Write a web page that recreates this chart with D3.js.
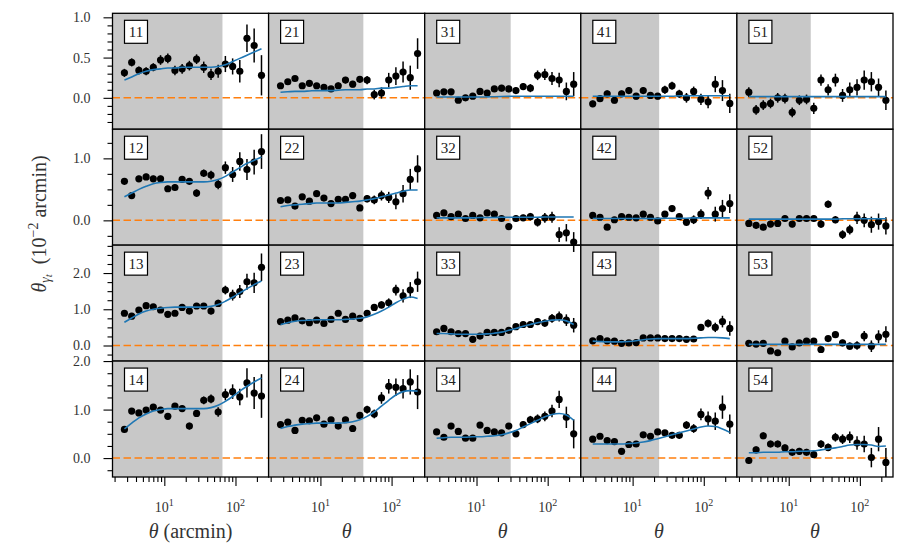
<!DOCTYPE html>
<html><head><meta charset="utf-8">
<script src="https://cdn.jsdelivr.net/npm/d3@7"></script>
<style>
body{margin:0;background:#fff}
svg text{font-family:"Liberation Serif","DejaVu Serif",serif;fill:#333}
</style>
</head><body>
<svg id="chart" width="906" height="544" font-family="Liberation Serif, DejaVu Serif, serif"></svg>
<script>
// ---------- data ----------
const theta = [2.75,3.48,4.39,5.55,7.00,8.85,11.2,14.1,17.8,22.5,28.4,35.8,45.3,57.1,72.1,91.2,115,145,183,232];
const scaleCuts = [65.6, 40.1, 30.2, 23.6, 20.4];
const panelLabels = [["11","21","31","41","51"],["12","22","32","42","52"],["13","23","33","43","53"],["14","24","34","44","54"]];
const rowLimits = [[-0.39,1.05],[-0.40,1.47],[-0.43,2.77],[-0.39,2.0]];
const rowMajorTicks = [[0,0.5,1.0],[0,1.0],[0,1.0,2.0],[0,1.0,2.0]];
const rowMinorStep = [0.1,0.25,0.25,0.25];
const xMajorTicks = [10,100];
const xMinorTicks = [2,3,4,5,6,7,8,9,20,30,40,50,60,70,80,90,200];

// row 1
const obs11=[0.31,0.44,0.34,0.33,0.38,0.47,0.49,0.34,0.36,0.40,0.48,0.38,0.29,0.33,0.42,0.39,0.33,0.74,0.65,0.28];
const err11=[0.05,0.05,0.05,0.05,0.05,0.06,0.06,0.06,0.06,0.06,0.06,0.07,0.07,0.08,0.10,0.10,0.14,0.17,0.21,0.25];
const mod11=[0.22,0.26,0.30,0.33,0.35,0.36,0.37,0.37,0.38,0.38,0.38,0.38,0.38,0.39,0.41,0.45,0.49,0.53,0.57,0.61];
const obs21=[0.15,0.20,0.24,0.15,0.18,0.15,0.13,0.11,0.15,0.22,0.17,0.23,0.22,0.04,0.06,0.22,0.27,0.32,0.25,0.55];
const err21=[0.03,0.03,0.03,0.03,0.03,0.03,0.03,0.03,0.04,0.04,0.04,0.04,0.05,0.06,0.07,0.09,0.11,0.13,0.15,0.19];
const mod21=[0.07,0.075,0.08,0.08,0.085,0.09,0.09,0.09,0.095,0.10,0.10,0.10,0.11,0.11,0.12,0.12,0.13,0.14,0.15,0.15];
const obs31=[0.06,0.075,0.075,-0.03,0.0,0.02,0.08,0.06,0.11,0.12,0.11,0.09,0.14,0.12,0.28,0.29,0.24,0.22,0.08,0.17];
const err31=[0.03,0.03,0.03,0.03,0.03,0.03,0.03,0.03,0.03,0.04,0.04,0.04,0.04,0.05,0.06,0.07,0.08,0.09,0.11,0.15];
const mod31=[0.01,0.01,0.01,0.01,0.01,0.01,0.01,0.012,0.014,0.016,0.018,0.02,0.02,0.02,0.02,0.02,0.02,0.02,0.02,0.02];
const obs41=[-0.075,-0.01,0.05,-0.03,0.05,0.09,0.02,0.09,0.03,0.02,0.10,0.15,0.05,0.0,0.08,-0.02,-0.05,0.17,0.09,-0.07];
const err41=[0.04,0.04,0.04,0.04,0.04,0.04,0.04,0.04,0.04,0.04,0.05,0.05,0.05,0.06,0.06,0.07,0.08,0.10,0.13,0.12];
const mod41=[0.02,0.02,0.02,0.02,0.02,0.02,0.02,0.02,0.02,0.02,0.02,0.02,0.025,0.025,0.025,0.025,0.025,0.025,0.025,0.025];
const obs51=[0.07,-0.15,-0.09,-0.07,0.0,-0.01,-0.18,-0.03,-0.02,-0.13,0.22,0.10,0.22,0.03,0.10,0.13,0.22,0.20,0.13,-0.03];
const err51=[0.06,0.06,0.06,0.06,0.06,0.06,0.06,0.06,0.06,0.07,0.07,0.07,0.08,0.08,0.09,0.10,0.12,0.12,0.11,0.12];
const mod51=[0.015,0.015,0.015,0.015,0.015,0.015,0.015,0.015,0.015,0.015,0.015,0.015,0.015,0.015,0.015,0.015,0.015,0.015,0.015,0.015];
// row 2
const obs12=[0.63,0.40,0.67,0.70,0.67,0.67,0.51,0.53,0.66,0.63,0.44,0.76,0.73,0.58,0.85,0.74,0.95,0.82,0.94,1.11];
const err12=[0.05,0.05,0.05,0.05,0.05,0.05,0.05,0.05,0.05,0.05,0.06,0.06,0.07,0.08,0.10,0.12,0.15,0.17,0.20,0.28];
const mod12=[0.38,0.44,0.50,0.55,0.59,0.61,0.62,0.62,0.62,0.62,0.62,0.62,0.63,0.66,0.71,0.78,0.85,0.92,0.97,1.02];
const obs22=[0.32,0.33,0.23,0.38,0.31,0.43,0.36,0.27,0.34,0.34,0.40,0.20,0.35,0.33,0.40,0.37,0.30,0.43,0.66,0.83];
const err22=[0.04,0.04,0.04,0.04,0.04,0.04,0.04,0.04,0.04,0.04,0.05,0.05,0.06,0.07,0.08,0.09,0.12,0.14,0.17,0.22];
const mod22=[0.22,0.24,0.25,0.26,0.27,0.28,0.28,0.28,0.28,0.29,0.30,0.31,0.33,0.35,0.38,0.41,0.44,0.47,0.49,0.49];
const obs32=[0.08,0.12,0.06,0.10,0.03,0.08,0.04,0.12,0.10,0.03,-0.10,0.03,0.04,0.06,-0.03,0.04,0.05,-0.23,-0.20,-0.35];
const err32=[0.04,0.04,0.04,0.04,0.04,0.04,0.04,0.04,0.04,0.04,0.05,0.05,0.05,0.06,0.07,0.08,0.09,0.12,0.14,0.16];
const mod32=[0.04,0.04,0.04,0.04,0.04,0.04,0.045,0.045,0.045,0.05,0.05,0.05,0.05,0.05,0.05,0.055,0.055,0.055,0.055,0.055];
const obs42=[0.08,0.05,-0.11,0.01,0.06,0.05,0.04,0.10,0.05,-0.01,0.10,0.19,0.06,-0.03,0.01,0.10,0.44,0.10,0.19,0.27];
const err42=[0.04,0.04,0.04,0.04,0.04,0.04,0.04,0.04,0.04,0.04,0.05,0.05,0.05,0.06,0.07,0.08,0.10,0.12,0.14,0.15];
const mod42=[0.03,0.03,0.03,0.03,0.03,0.03,0.03,0.03,0.03,0.03,0.035,0.035,0.035,0.035,0.04,0.04,0.04,0.04,0.04,0.04];
const obs52=[-0.05,-0.08,-0.11,-0.06,-0.05,0.03,-0.06,0.03,0.03,0.03,-0.06,0.26,0.01,-0.23,-0.15,0.04,0.0,-0.07,-0.02,-0.09];
const err52=[0.05,0.05,0.05,0.05,0.05,0.05,0.05,0.05,0.05,0.05,0.06,0.06,0.06,0.07,0.08,0.10,0.11,0.13,0.13,0.14];
const mod52=[0.02,0.02,0.02,0.02,0.02,0.02,0.02,0.02,0.02,0.02,0.02,0.02,0.02,0.025,0.025,0.025,0.025,0.025,0.025,0.025];
// row 3
const obs13=[0.89,0.81,0.98,1.10,1.07,0.98,0.86,0.89,1.05,0.95,1.09,1.09,0.95,1.16,1.53,1.39,1.49,1.76,1.73,2.16];
const err13=[0.07,0.07,0.07,0.07,0.07,0.07,0.07,0.07,0.07,0.07,0.08,0.08,0.09,0.10,0.12,0.15,0.18,0.22,0.28,0.38];
const mod13=[0.64,0.76,0.87,0.95,1.00,1.03,1.05,1.06,1.06,1.06,1.06,1.06,1.08,1.13,1.22,1.33,1.45,1.57,1.68,1.78];
const obs23=[0.66,0.70,0.76,0.68,0.63,0.70,0.61,0.72,0.89,0.72,0.81,0.75,0.89,1.05,1.12,1.18,1.53,1.37,1.53,1.76];
const err23=[0.06,0.06,0.06,0.06,0.06,0.06,0.06,0.06,0.06,0.06,0.07,0.07,0.08,0.09,0.10,0.12,0.15,0.18,0.22,0.28];
const mod23=[0.58,0.63,0.67,0.69,0.70,0.71,0.71,0.71,0.71,0.72,0.73,0.75,0.79,0.86,0.95,1.06,1.18,1.28,1.34,1.30];
const obs33=[0.38,0.47,0.38,0.33,0.33,0.17,0.26,0.36,0.36,0.36,0.42,0.52,0.58,0.58,0.66,0.62,0.75,0.80,0.70,0.56];
const err33=[0.05,0.05,0.05,0.05,0.05,0.05,0.05,0.05,0.05,0.05,0.06,0.06,0.07,0.08,0.09,0.10,0.12,0.14,0.16,0.20];
const mod33=[0.33,0.33,0.32,0.31,0.31,0.31,0.31,0.32,0.34,0.37,0.42,0.47,0.53,0.58,0.63,0.67,0.70,0.71,0.68,0.58];
const obs43=[0.13,0.19,0.13,0.12,0.06,0.07,0.08,0.21,0.21,0.21,0.19,0.19,0.19,0.17,0.18,0.50,0.61,0.50,0.66,0.47];
const err43=[0.05,0.05,0.05,0.05,0.05,0.05,0.05,0.05,0.05,0.05,0.05,0.05,0.06,0.06,0.07,0.09,0.11,0.13,0.16,0.20];
const mod43=[0.12,0.11,0.10,0.10,0.10,0.11,0.13,0.16,0.18,0.19,0.19,0.19,0.19,0.19,0.20,0.21,0.22,0.22,0.21,0.19];
const obs53=[0.06,0.04,0.06,-0.15,-0.20,0.12,-0.04,0.07,0.12,0.12,-0.11,0.19,0.30,0.07,-0.02,0.0,0.26,-0.02,0.24,0.31];
const err53=[0.06,0.06,0.06,0.06,0.06,0.06,0.06,0.06,0.06,0.06,0.07,0.07,0.08,0.09,0.10,0.12,0.14,0.16,0.18,0.22];
const mod53=[0.03,0.03,0.03,0.03,0.03,0.03,0.03,0.03,0.03,0.03,0.03,0.03,0.03,0.03,0.03,0.03,0.03,0.03,0.03,0.03];
// row 4
const obs14=[0.59,0.97,0.93,0.99,1.05,0.99,0.86,1.07,1.02,0.66,0.92,1.19,1.22,0.95,1.31,1.37,1.26,1.55,1.34,1.28];
const err14=[0.06,0.06,0.06,0.06,0.06,0.06,0.06,0.06,0.06,0.07,0.07,0.08,0.09,0.10,0.12,0.15,0.17,0.30,0.33,0.45];
const mod14=[0.60,0.72,0.83,0.91,0.97,1.00,1.02,1.02,1.02,1.02,1.02,1.02,1.04,1.09,1.17,1.27,1.38,1.48,1.57,1.65];
const obs24=[0.69,0.74,0.57,0.78,0.77,0.83,0.70,0.79,0.66,0.79,0.61,0.88,1.00,0.91,1.24,1.48,1.46,1.43,1.57,1.36];
const err24=[0.05,0.05,0.05,0.05,0.05,0.05,0.05,0.05,0.05,0.06,0.06,0.07,0.08,0.09,0.12,0.15,0.18,0.20,0.26,0.35];
const mod24=[0.61,0.65,0.68,0.70,0.71,0.72,0.72,0.72,0.72,0.73,0.75,0.79,0.86,0.95,1.07,1.19,1.30,1.37,1.39,1.38];
const obs34=[0.54,0.43,0.66,0.55,0.41,0.41,0.68,0.57,0.54,0.52,0.66,0.50,0.69,0.79,0.81,0.86,0.97,1.21,0.84,0.50];
const err34=[0.05,0.05,0.05,0.05,0.05,0.05,0.05,0.05,0.05,0.05,0.06,0.06,0.07,0.08,0.09,0.10,0.13,0.18,0.22,0.30];
const mod34=[0.41,0.42,0.43,0.43,0.43,0.44,0.44,0.45,0.46,0.48,0.52,0.57,0.64,0.71,0.78,0.85,0.90,0.92,0.89,0.78];
const obs44=[0.39,0.45,0.36,0.34,0.14,0.28,0.29,0.48,0.45,0.54,0.52,0.47,0.47,0.68,0.61,0.90,0.81,0.76,1.05,0.70];
const err44=[0.05,0.05,0.05,0.05,0.05,0.05,0.05,0.05,0.05,0.05,0.06,0.06,0.07,0.08,0.09,0.12,0.15,0.18,0.24,0.20];
const mod44=[0.29,0.29,0.29,0.29,0.29,0.30,0.31,0.33,0.36,0.40,0.44,0.48,0.52,0.56,0.60,0.64,0.66,0.65,0.60,0.53];
const obs54=[-0.05,0.17,0.46,0.29,0.29,0.21,0.12,0.14,0.12,0.07,0.29,0.22,0.43,0.39,0.43,0.31,0.29,0.01,0.39,-0.09];
const err54=[0.07,0.07,0.07,0.07,0.07,0.07,0.07,0.07,0.07,0.07,0.08,0.08,0.09,0.10,0.12,0.14,0.17,0.20,0.25,0.30];
const mod54=[0.11,0.11,0.12,0.12,0.12,0.13,0.13,0.14,0.14,0.15,0.17,0.19,0.21,0.24,0.27,0.28,0.28,0.27,0.24,0.25];

const observed = {11:obs11,21:obs21,31:obs31,41:obs41,51:obs51,12:obs12,22:obs22,32:obs32,42:obs42,52:obs52,
  13:obs13,23:obs23,33:obs33,43:obs43,53:obs53,14:obs14,24:obs24,34:obs34,44:obs44,54:obs54};
const errors = {11:err11,21:err21,31:err31,41:err41,51:err51,12:err12,22:err22,32:err32,42:err42,52:err52,
  13:err13,23:err23,33:err33,43:err43,53:err53,14:err14,24:err24,34:err34,44:err44,54:err54};
const model = {11:mod11,21:mod21,31:mod31,41:mod41,51:mod51,12:mod12,22:mod22,32:mod32,42:mod42,52:mod52,
  13:mod13,23:mod23,33:mod33,43:mod43,53:mod53,14:mod14,24:mod24,34:mod34,44:mod44,54:mod54};

// ---------- layout ----------
const FONT = "Liberation Serif, DejaVu Serif, serif";
const L = 112.5, R = 893, T = 13.3, B = 477;
const cw = (R - L) / 5, rh = (B - T) / 4;
const svg = d3.select("#chart");

const x = d3.scaleLog().domain([1.87, 292]).range([0, cw]);

for (let r = 0; r < 4; r++) {
  const y = d3.scaleLinear().domain(rowLimits[r]).range([rh, 0]);
  for (let c = 0; c < 5; c++) {
    const key = panelLabels[r][c];
    const g = svg.append("g").attr("transform", `translate(${L + c * cw},${T + r * rh})`);
    g.append("rect").attr("x", 0).attr("y", 0)
      .attr("width", x(scaleCuts[c])).attr("height", rh).attr("fill", "#c8c8c8");
    g.append("line").attr("x1", 0).attr("x2", cw).attr("y1", y(0)).attr("y2", y(0))
      .attr("stroke", "#ff7f0e").attr("stroke-width", 1.5).attr("stroke-dasharray", "7.5,3.5");
    const pts = theta.map((t, i) => ({t, v: observed[key][i], e: errors[key][i], m: model[key][i]}));
    g.selectAll("line.eb").data(pts).enter().append("line").attr("class", "eb")
      .attr("x1", d => x(d.t)).attr("x2", d => x(d.t))
      .attr("y1", d => y(d.v - d.e)).attr("y2", d => y(d.v + d.e))
      .attr("stroke", "#000").attr("stroke-width", 1.5);
    g.selectAll("circle").data(pts).enter().append("circle")
      .attr("cx", d => x(d.t)).attr("cy", d => y(d.v)).attr("r", 3.6).attr("fill", "#000");
    g.append("path").datum(pts)
      .attr("d", d3.line().x(d => x(d.t)).y(d => y(d.m)).curve(d3.curveMonotoneX))
      .attr("fill", "none").attr("stroke", "#1f77b4").attr("stroke-width", 1.6);
    g.append("rect").attr("width", cw).attr("height", rh)
      .attr("fill", "none").attr("stroke", "#000").attr("stroke-width", 1.3);
    g.append("rect").attr("x", 12).attr("y", 7).attr("width", 23).attr("height", 23)
      .attr("fill", "#fff").attr("stroke", "#000").attr("stroke-width", 1.2);
    g.append("text").attr("x", 23.5).attr("y", 18.5).attr("dy", "0.35em")
      .attr("text-anchor", "middle").attr("font-size", 15).attr("font-family", FONT)
      .style("fill", "#222").text(key);

    if (c === 0) {
      const lim = rowLimits[r], st = rowMinorStep[r];
      const minor = d3.range(Math.ceil(lim[0] / st - 1e-9), Math.floor(lim[1] / st + 1e-9) + 1)
        .map(k => +(k * st).toFixed(3)).filter(v => !rowMajorTicks[r].some(m => Math.abs(m - v) < 1e-6));
      const ga = g.append("g").call(d3.axisLeft(y).tickValues(minor).tickSize(5).tickFormat(""));
      const gb = g.append("g").call(d3.axisLeft(y).tickValues(rowMajorTicks[r]).tickSize(9).tickPadding(13)
        .tickFormat(d3.format(".1f")));
      [ga, gb].forEach(a => {
        a.attr("font-family", FONT);
        a.select(".domain").remove();
        a.selectAll("line").attr("stroke", "#000").attr("stroke-width", 1.1);
        a.selectAll("text").attr("font-size", 14).attr("font-family", FONT).style("fill", "#333");
      });
    }
    if (r === 3) {
      const ga = g.append("g").attr("transform", `translate(0,${rh})`)
        .call(d3.axisBottom(x).tickValues(xMinorTicks).tickSize(5).tickFormat(""));
      const gb = g.append("g").attr("transform", `translate(0,${rh})`)
        .call(d3.axisBottom(x).tickValues(xMajorTicks).tickSize(9).tickFormat(""));
      [ga, gb].forEach(a => {
        a.select(".domain").remove();
        a.selectAll("line").attr("stroke", "#000").attr("stroke-width", 1.1);
      });
      xMajorTicks.forEach(t => {
        const tx = g.append("text").attr("x", x(t)).attr("y", rh + 35)
          .attr("text-anchor", "middle").attr("font-size", 14).attr("font-family", FONT);
        tx.append("tspan").text("10");
        tx.append("tspan").attr("font-size", 10).attr("dy", -6).text(String(Math.round(Math.log10(t))));
      });
      const xl = svg.append("text").attr("x", L + c * cw + cw / 2).attr("y", 538)
        .attr("text-anchor", "middle").attr("font-size", 20).attr("font-family", FONT);
      xl.append("tspan").attr("font-style", "italic").text("θ");
      if (c === 0) xl.append("tspan").text("\u00a0(arcmin)");
    }
  }
}

const yl = svg.append("text").attr("transform", "translate(46,224) rotate(-90)")
  .attr("text-anchor", "middle").attr("font-size", 20).attr("font-family", FONT);
yl.append("tspan").attr("font-style", "italic").text("θ");
yl.append("tspan").attr("font-style", "italic").attr("font-size", 14).attr("dy", 4).text("γ");
yl.append("tspan").attr("font-style", "italic").attr("font-size", 11).attr("dy", 2).text("t");
yl.append("tspan").attr("dy", -6).text("\u00a0\u00a0(10");
yl.append("tspan").attr("font-size", 14).attr("dy", -8).text("−2");
yl.append("tspan").attr("dy", 8).text("\u00a0arcmin)");
</script>
</body></html>
